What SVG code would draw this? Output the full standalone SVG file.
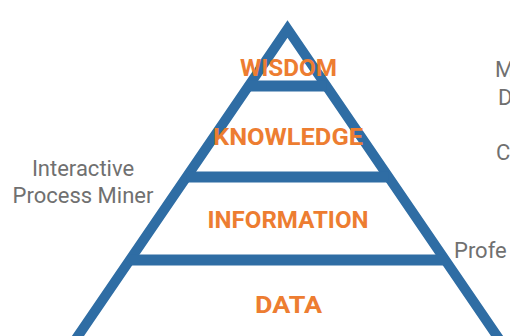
<svg xmlns="http://www.w3.org/2000/svg" width="510" height="336" viewBox="0 0 510 336">
<style>
.side{fill:none;stroke:#2F6DA4;stroke-width:10;stroke-linejoin:miter;stroke-miterlimit:10}
.bar{stroke:#2F6DA4;stroke-width:11}
.lvl{font-family:Roboto,"Liberation Sans",sans-serif;font-weight:bold;font-size:24px;fill:#ED7D31;text-anchor:middle}
.note{font-family:Roboto,"Liberation Sans",sans-serif;font-size:22px;fill:#707070}
</style>
<rect width="510" height="336" fill="#FFFFFF"/>
<g id="pyramid">
<path class="side" d="M68.4,350 L287.5,29 L506.6,350"/>
</g>
<g id="connectors">
<line class="bar" x1="248.6" y1="86" x2="326.4" y2="86"/>
<line class="bar" x1="186.5" y1="177" x2="388.5" y2="177"/>
<line class="bar" x1="130" y1="260" x2="445" y2="260"/>
</g>
<g id="wisdom"><text class="lvl" x="288.5" y="76" textLength="97" lengthAdjust="spacingAndGlyphs">WISDOM</text></g>
<g id="knowledge"><text class="lvl" x="288" y="145" textLength="150" lengthAdjust="spacingAndGlyphs">KNOWLEDGE</text></g>
<g id="information"><text class="lvl" x="288" y="228" textLength="161" lengthAdjust="spacingAndGlyphs">INFORMATION</text></g>
<g id="data"><text class="lvl" x="288.5" y="313" textLength="67" lengthAdjust="spacingAndGlyphs">DATA</text></g>
<g id="ipm"><text class="note" text-anchor="middle" x="83" y="176">Interactive</text><text class="note" text-anchor="middle" x="83" y="203">Process Miner</text></g>
<g id="right-m"><text class="note" x="495" y="77">M</text></g>
<g id="right-d"><text class="note" x="498" y="105">D</text></g>
<g id="right-c"><text class="note" x="496" y="160">Cl</text></g>
<g id="right-p"><text class="note" x="454" y="258">Profe</text></g>
</svg>
